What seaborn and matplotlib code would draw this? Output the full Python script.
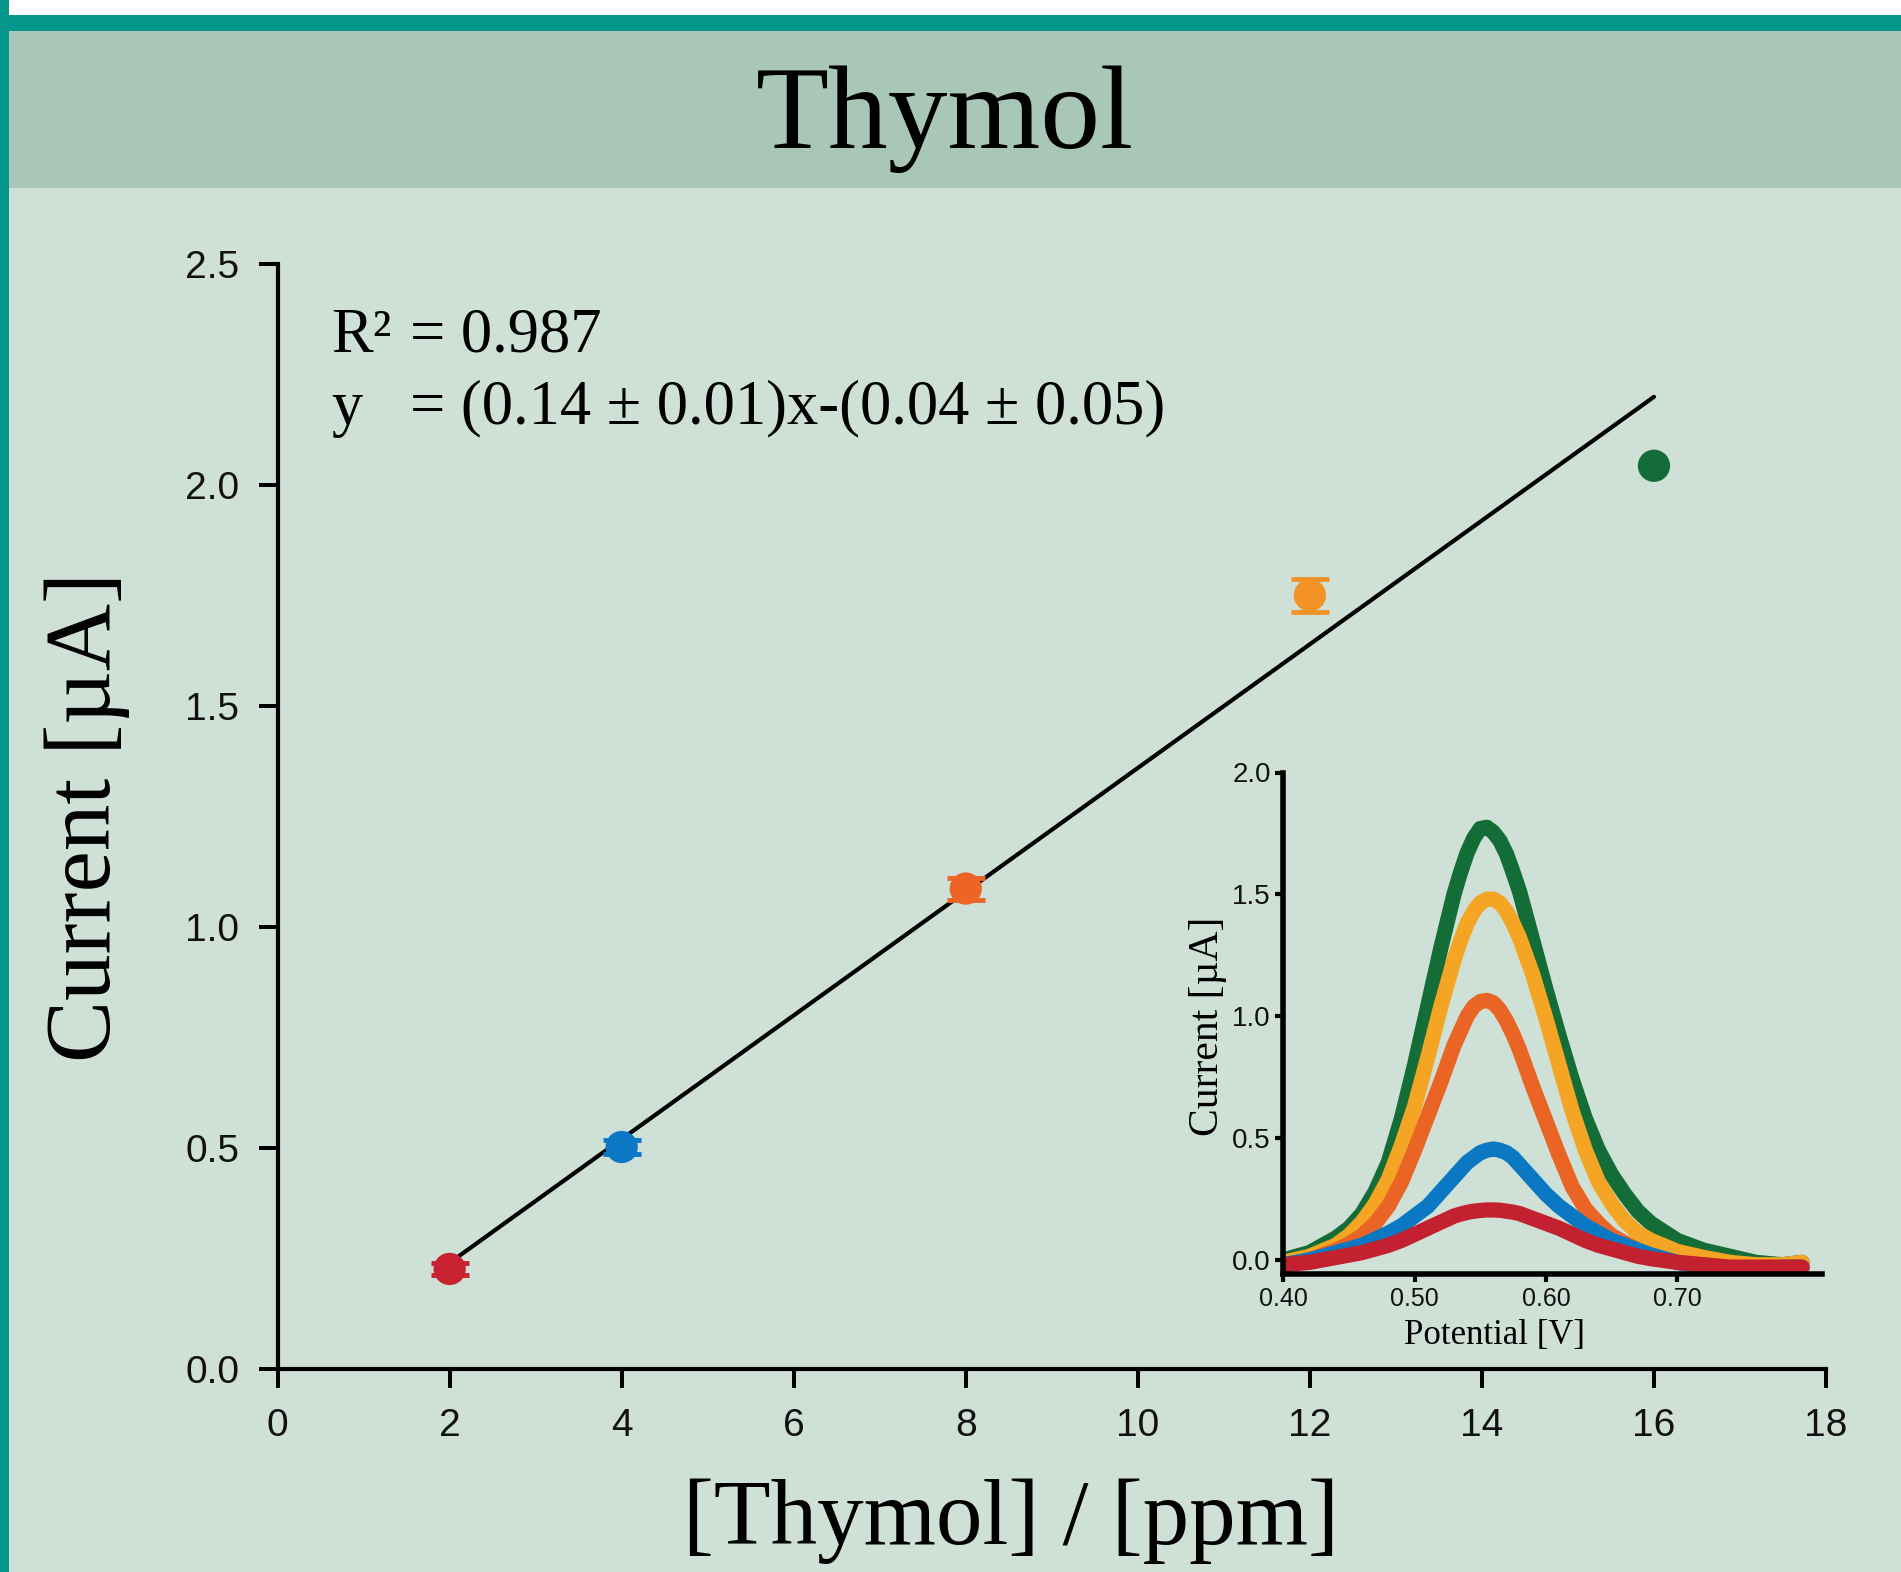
import numpy as np
import pandas as pd
import matplotlib
matplotlib.use("Agg")
import matplotlib.pyplot as plt
import seaborn as sns
from matplotlib.patches import Rectangle

# ---------------- data ----------------
concentration_ppm = [2, 4, 8, 12, 16]
peak_current_uA = [0.226, 0.502, 1.087, 1.751, 2.044]
current_error_uA = [0.013, 0.015, 0.025, 0.037, 0.0]
point_labels = ["2 ppm", "4 ppm", "8 ppm", "12 ppm", "16 ppm"]
point_colors = ["#c8212f", "#0b77c5", "#ee6326", "#f39325", "#136b38"]

fit_slope = 0.14
fit_intercept = -0.04
fit_x_range = [2, 16]

r2_lhs, r2_rhs = "R²", "= 0.987"
eq_lhs, eq_rhs = "y", "= (0.14 ± 0.01)x-(0.04 ± 0.05)"

x_ticks = [0, 2, 4, 6, 8, 10, 12, 14, 16, 18]
y_ticks = [0.0, 0.5, 1.0, 1.5, 2.0, 2.5]
y_tick_labels = ["0.0", "0.5", "1.0", "1.5", "2.0", "2.5"]

# inset: DPV curves
potential_V = [0.40, 0.42, 0.44, 0.45, 0.46, 0.47, 0.48, 0.49, 0.50, 0.51,
               0.52, 0.53, 0.535, 0.54, 0.545, 0.55, 0.555, 0.56, 0.565, 0.57,
               0.575, 0.58, 0.59, 0.60, 0.61, 0.62, 0.63, 0.64, 0.65, 0.66,
               0.67, 0.68, 0.70, 0.72, 0.74, 0.76, 0.78, 0.795]
curve_16ppm = [0.00, 0.03, 0.09, 0.13, 0.19, 0.28, 0.40, 0.58, 0.80, 1.04,
               1.28, 1.50, 1.59, 1.67, 1.73, 1.77, 1.775, 1.755, 1.72, 1.665,
               1.59, 1.51, 1.31, 1.11, 0.92, 0.74, 0.58, 0.45, 0.35, 0.27,
               0.20, 0.15, 0.08, 0.04, 0.015, -0.01, -0.02, -0.01]
curve_12ppm = [-0.01, 0.015, 0.06, 0.10, 0.155, 0.23, 0.33, 0.47, 0.63, 0.83,
               1.04, 1.23, 1.31, 1.38, 1.43, 1.465, 1.48, 1.48, 1.465, 1.43,
               1.38, 1.32, 1.17, 0.99, 0.80, 0.61, 0.45, 0.32, 0.23, 0.16,
               0.11, 0.08, 0.035, 0.01, -0.01, -0.02, -0.02, -0.01]
curve_8ppm = [-0.02, 0.0, 0.04, 0.065, 0.10, 0.15, 0.22, 0.32, 0.45, 0.59,
              0.73, 0.88, 0.94, 1.00, 1.04, 1.06, 1.065, 1.055, 1.025, 0.98,
              0.925, 0.86, 0.71, 0.57, 0.43, 0.30, 0.21, 0.15, 0.10, 0.07,
              0.04, 0.02, -0.01, -0.02, -0.03, -0.03, -0.03, -0.03]
curve_4ppm = [-0.02, 0.0, 0.03, 0.045, 0.06, 0.085, 0.11, 0.14, 0.18, 0.22,
              0.28, 0.34, 0.37, 0.40, 0.42, 0.44, 0.45, 0.455, 0.45, 0.44,
              0.42, 0.39, 0.33, 0.27, 0.22, 0.18, 0.14, 0.11, 0.08, 0.06,
              0.04, 0.02, -0.01, -0.03, -0.04, -0.04, -0.03, -0.03]
curve_2ppm = [-0.02, -0.01, 0.01, 0.02, 0.03, 0.045, 0.06, 0.08, 0.105, 0.13,
              0.155, 0.18, 0.188, 0.195, 0.20, 0.203, 0.205, 0.205, 0.204, 0.20,
              0.196, 0.19, 0.17, 0.15, 0.13, 0.105, 0.08, 0.06, 0.045, 0.03,
              0.015, 0.005, -0.01, -0.02, -0.03, -0.03, -0.03, -0.03]
curve_order = ["16 ppm", "12 ppm", "8 ppm", "4 ppm", "2 ppm"]
curve_colors = ["#146c37", "#f5a524", "#ea6426", "#0a78c2", "#c3212f"]
inset_x_ticks = [0.40, 0.50, 0.60, 0.70]
inset_x_labels = ["0.40", "0.50", "0.60", "0.70"]
inset_y_ticks = [0.0, 0.5, 1.0, 1.5, 2.0]
inset_y_labels = ["0.0", "0.5", "1.0", "1.5", "2.0"]

# ---------------- style ----------------
sns.set_theme(style="ticks")
plt.rcParams["font.family"] = ["Liberation Sans", "DejaVu Sans"]
plt.rcParams["text.color"] = "black"
plt.rcParams["axes.labelcolor"] = "black"
SERIF = ["Liberation Serif", "DejaVu Serif"]
NARROW = ["Liberation Sans Narrow", "Liberation Sans", "DejaVu Sans"]

BODY = "#cfe1d6"
HEADER = "#a8c7b7"
TEAL = "#05968c"

W, H = 1901, 1572
fig = plt.figure(figsize=(W / 100, H / 100), dpi=100)
fig.patch.set_facecolor(BODY)

# header / frame decorations
fig.add_artist(Rectangle((0, 1 - 188 / H), 1, (188 - 31) / H, transform=fig.transFigure,
                         facecolor=HEADER, edgecolor="none", zorder=-10))
fig.add_artist(Rectangle((0, 1 - 31 / H), 1, 16 / H, transform=fig.transFigure,
                         facecolor=TEAL, edgecolor="none", zorder=-9))
fig.add_artist(Rectangle((0, 1 - 15 / H), 1, 15 / H, transform=fig.transFigure,
                         facecolor="white", edgecolor="none", zorder=-9))
fig.add_artist(Rectangle((0, 0), 9 / W, 1, transform=fig.transFigure,
                         facecolor=TEAL, edgecolor="none", zorder=-8))

fig.text(0.497, 1 - 148 / H, "Thymol", family=SERIF, fontsize=86,
         ha="center", va="baseline", color="black")

# ---------------- main axes ----------------
x0, x1 = 277.6 / W, 1826 / W
y0, y1 = 1 - 1368.8 / H, 1 - 264.3 / H
ax = fig.add_axes([x0, y0, x1 - x0, y1 - y0])
ax.set_facecolor("none")

fit_x = np.array(fit_x_range, dtype=float)
fit_y = fit_slope * fit_x + fit_intercept
sns.lineplot(x=fit_x, y=fit_y, color="black", linewidth=3.0, ax=ax, zorder=2)

for xi, yi, ei, ci in zip(concentration_ppm, peak_current_uA, current_error_uA, point_colors):
    if ei > 0:
        ax.errorbar([xi], [yi], yerr=[ei], fmt="none", ecolor=ci, elinewidth=3,
                    capsize=13.5, capthick=3.5, zorder=3)

sns.scatterplot(x=concentration_ppm, y=peak_current_uA, hue=point_labels,
                palette=dict(zip(point_labels, point_colors)), s=540,
                edgecolor="none", linewidth=0, legend=False, ax=ax, zorder=4)

ax.set_xlim(0, 18)
ax.set_ylim(0, 2.5)
ax.set_xticks(x_ticks, labels=[str(t) for t in x_ticks])
ax.set_yticks(y_ticks, labels=y_tick_labels)
sns.despine(ax=ax)
for s in ["left", "bottom"]:
    ax.spines[s].set_linewidth(3.0)
    ax.spines[s].set_color("black")
ax.tick_params(axis="both", direction="out", length=13.5, width=2.9, labelsize=28,
               color="black", labelcolor="#111111")
ax.tick_params(axis="x", pad=15)
ax.tick_params(axis="y", pad=14)
ax.grid(False)

ax.set_xlabel("[Thymol] / [ppm]", family=SERIF, fontsize=67, color="black")
ax.xaxis.set_label_coords(0.4737, -0.1383)
ax.xaxis.label.set_va("center")
ax.set_ylabel("Current [µA]", family=SERIF, fontsize=67, color="black")
ax.yaxis.set_label_coords(-0.1231, 0.5)
ax.yaxis.label.set_va("center")

EQ = dict(family=SERIF, fontsize=45, va="baseline", ha="left", color="black")
ax.text(0.62, 2.302, r2_lhs, **EQ)
ax.text(1.54, 2.302, r2_rhs, **EQ)
ax.text(0.62, 2.139, eq_lhs, **EQ)
ax.text(1.54, 2.139, eq_rhs, **EQ)

# ---------------- inset ----------------
ix0, ix1 = 1283.2 / W, 1821.8 / W
iy0, iy1 = 1 - 1274.3 / H, 1 - 772.5 / H
ax2 = fig.add_axes([ix0, iy0, ix1 - ix0, iy1 - iy0])
ax2.set_facecolor("none")

curves = pd.DataFrame({
    "potential": potential_V * 5,
    "current": curve_16ppm + curve_12ppm + curve_8ppm + curve_4ppm + curve_2ppm,
    "conc": sum([[c] * len(potential_V) for c in curve_order], []),
})
sns.lineplot(data=curves, x="potential", y="current", hue="conc", hue_order=curve_order,
             palette=dict(zip(curve_order, curve_colors)), linewidth=11,
             legend=False, ax=ax2, solid_capstyle="round", solid_joinstyle="round")

ax2.set_xlim(0.40, 0.81)
ax2.set_ylim(-0.059, 2.0)
ax2.set_xticks(inset_x_ticks, labels=inset_x_labels, family=NARROW, fontsize=18)
ax2.set_yticks(inset_y_ticks, labels=inset_y_labels, family=NARROW, fontsize=20)
sns.despine(ax=ax2)
for s in ["left", "bottom"]:
    ax2.spines[s].set_linewidth(4.0)
    ax2.spines[s].set_color("black")
ax2.tick_params(axis="both", direction="out", length=6, width=3, pad=3,
                color="black", labelcolor="#111111")
ax2.grid(False)
ax2.set_xlabel("Potential [V]", family=SERIF, fontsize=25, color="black")
ax2.xaxis.set_label_coords(0.393, -0.122)
ax2.xaxis.label.set_va("center")
ax2.set_ylabel("Current [µA]", family=SERIF, fontsize=30, color="black")
ax2.yaxis.set_label_coords(-0.140, 0.495)
ax2.yaxis.label.set_va("center")

fig.savefig("out.png", dpi=100, facecolor=fig.get_facecolor())
